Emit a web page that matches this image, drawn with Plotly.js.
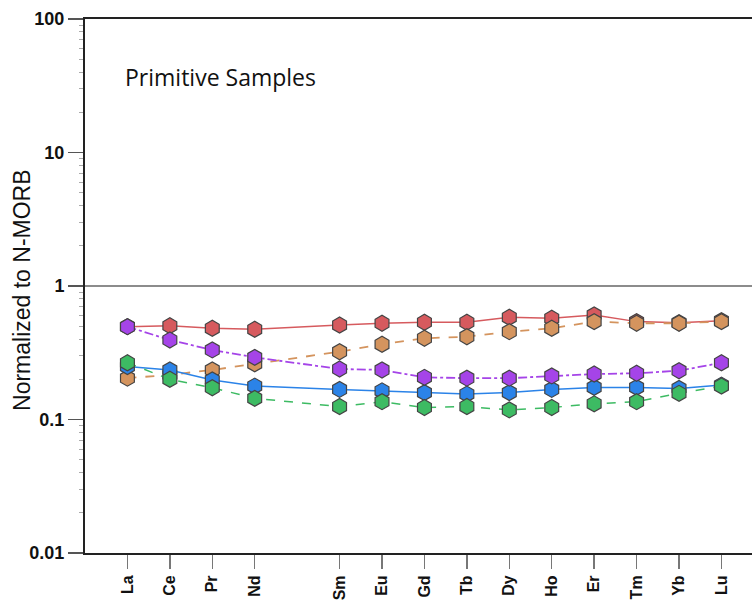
<!DOCTYPE html>
<html><head><meta charset="utf-8">
<script src="https://cdn.plot.ly/plotly-3.0.1.min.js"></script>
<style>html,body{margin:0;padding:0;background:#fff;}#chart{width:752px;height:607px;}</style>
</head><body><div id="chart"></div>
<script>
const elements = ['La','Ce','Pr','Nd','Sm','Eu','Gd','Tb','Dy','Ho','Er','Tm','Yb','Lu'];
const atomicNumbers = [57,58,59,60,62,63,64,65,66,67,68,69,70,71];
const redSeries    = [0.496,0.504,0.482,0.474,0.510,0.526,0.535,0.535,0.583,0.573,0.607,0.541,0.531,0.550];
const orangeSeries = [0.204,0.216,0.235,0.261,0.322,0.366,0.406,0.417,0.455,0.482,0.541,0.526,0.526,0.541];
const purpleSeries = [0.496,0.394,0.332,0.292,0.239,0.235,0.207,0.204,0.204,0.212,0.219,0.222,0.232,0.266];
const blueSeries   = [0.249,0.235,0.198,0.178,0.168,0.164,0.159,0.155,0.159,0.168,0.174,0.174,0.171,0.181];
const greenSeries  = [0.266,0.200,0.173,0.144,0.125,0.136,0.123,0.125,0.118,0.123,0.131,0.136,0.157,0.178];
const yTickVals = [0.01,0.1,1,10,100];
const yTickText = ['0.01','0.1','1','10','100'];

function tr(y, color, dash, width){
  return {x: atomicNumbers, y: y, type:'scatter', mode:'lines+markers',
    line:{color:color, dash:dash, width:width},
    marker:{symbol:'hexagon', size:16, color:color, line:{color:'#444', width:1.2}},
    hoverinfo:'skip', showlegend:false};
}
const data = [
  tr(redSeries,'#d65a5e','solid',1.5),
  tr(orangeSeries,'#d4945e','dash',1.8),
  tr(blueSeries,'#2b83e8','solid',1.5),
  tr(greenSeries,'#3dbb63','dash',1.5),
  tr(purpleSeries,'#a544e8','dashdot',1.8)
];
const layout = {
  width:752, height:607,
  margin:{l:85, r:0, t:19, b:54},
  paper_bgcolor:'#fff', plot_bgcolor:'#fff',
  font:{family:'Liberation Sans, Arial, sans-serif', color:'#111'},
  xaxis:{range:[56,71.72], showgrid:false, zeroline:false, showline:true, mirror:true,
    linecolor:'#222', linewidth:2, ticks:'outside', ticklen:14, tickwidth:1.5, tickcolor:'#777',
    tickvals:atomicNumbers, ticktext:elements, tickangle:-90,
    tickfont:{family:'Liberation Sans, Arial, sans-serif', size:16, color:'#111', weight:'bold'}},
  yaxis:{type:'log', range:[-2,2], showgrid:false, zeroline:false, showline:true,
    linecolor:'#222', linewidth:2, ticks:'outside', ticklen:15, tickwidth:1.5, tickcolor:'#555',
    tickvals:yTickVals, ticktext:yTickText,
    tickfont:{family:'Liberation Sans, Arial, sans-serif', size:18, color:'#111', weight:'bold'},
    minor:{ticks:'outside', dtick:'D1', ticklen:4, tickcolor:'#aaa', tickwidth:1, showgrid:false}},
  shapes:[{type:'line', xref:'paper', yref:'y', x0:0, x1:1, y0:1, y1:1, line:{color:'#666', width:1.5}}],
  annotations:[
    {xref:'paper', yref:'paper', x:0.057, y:0.891, xanchor:'left', yanchor:'middle', showarrow:false,
     text:'Primitive Samples', font:{family:'Open Sans, sans-serif', size:23, color:'#111'}},
    {xref:'paper', yref:'paper', x:-0.0945, y:0.4925, xanchor:'center', yanchor:'middle', showarrow:false,
     textangle:-90, text:'Normalized to N-MORB', font:{family:'Liberation Sans, Arial, sans-serif', size:23, color:'#111'}}
  ]
};
Plotly.newPlot('chart', data, layout, {staticPlot:true});
</script></body></html>
